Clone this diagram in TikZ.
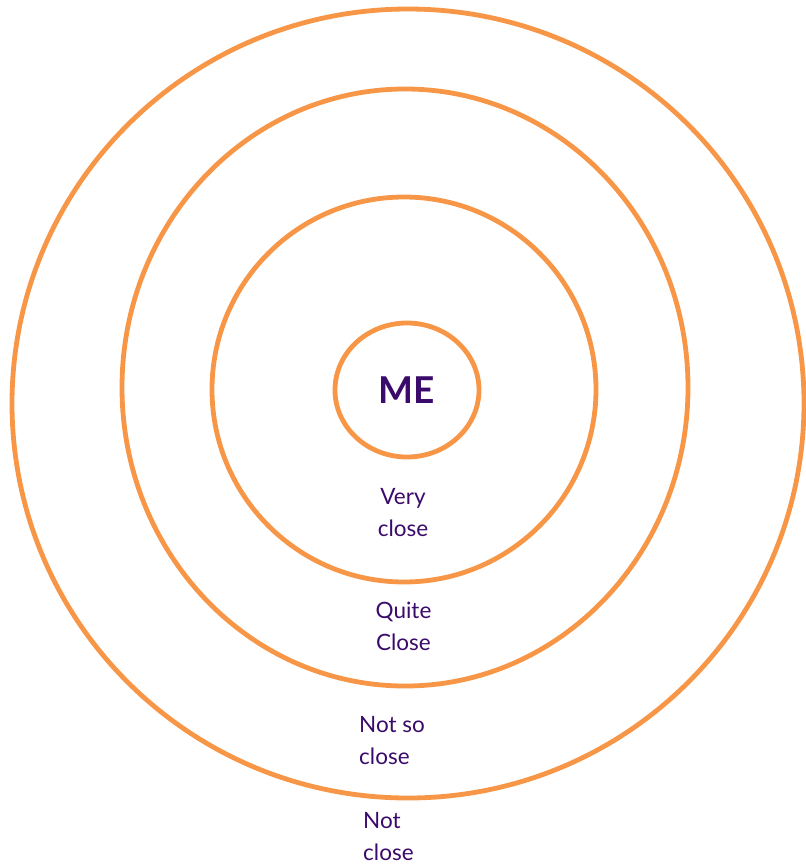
\documentclass[tikz,border=0pt]{standalone}
\usepackage{fontspec}
\setmainfont{Lato}
\usetikzlibrary{shapes.geometric}
\definecolor{ringorange}{HTML}{F79646}
\definecolor{labelpurple}{HTML}{3B0B6B}
\begin{document}
\begin{tikzpicture}[x=1pt,y=-1pt,
  ring/.style={ellipse, draw=ringorange, line width=4.8pt, inner sep=0pt},
  lbl/.style={text=labelpurple, inner sep=0pt, font=\fontsize{22.5}{32}\selectfont}]
\useasboundingbox (0,0) rectangle (806,868);
\node[ring, minimum width=792pt, minimum height=789pt] (outer) at (408,403.5) {};
\node[ring, minimum width=566pt, minimum height=597pt] (second) at (405,387.5) {};
\node[ring, minimum width=384pt, minimum height=385pt] (third) at (404,389.5) {};
\node[ring, minimum width=144pt, minimum height=134pt, text=labelpurple, font=\fontsize{37}{40}\selectfont\bfseries] (me) at (407,390) {ME};
\node[lbl, align=center, anchor=north] (veryclose) at (403,488) {Very\\close};
\node[lbl, align=center, anchor=north] (quiteclose) at (403.5,602) {Quite\\Close};
\node[lbl, align=left, anchor=north west] (notsoclose) at (359,716) {Not so\\close};
\node[lbl, align=left, anchor=north west] (notclose) at (363,812) {Not\\close};
\end{tikzpicture}
\end{document}
